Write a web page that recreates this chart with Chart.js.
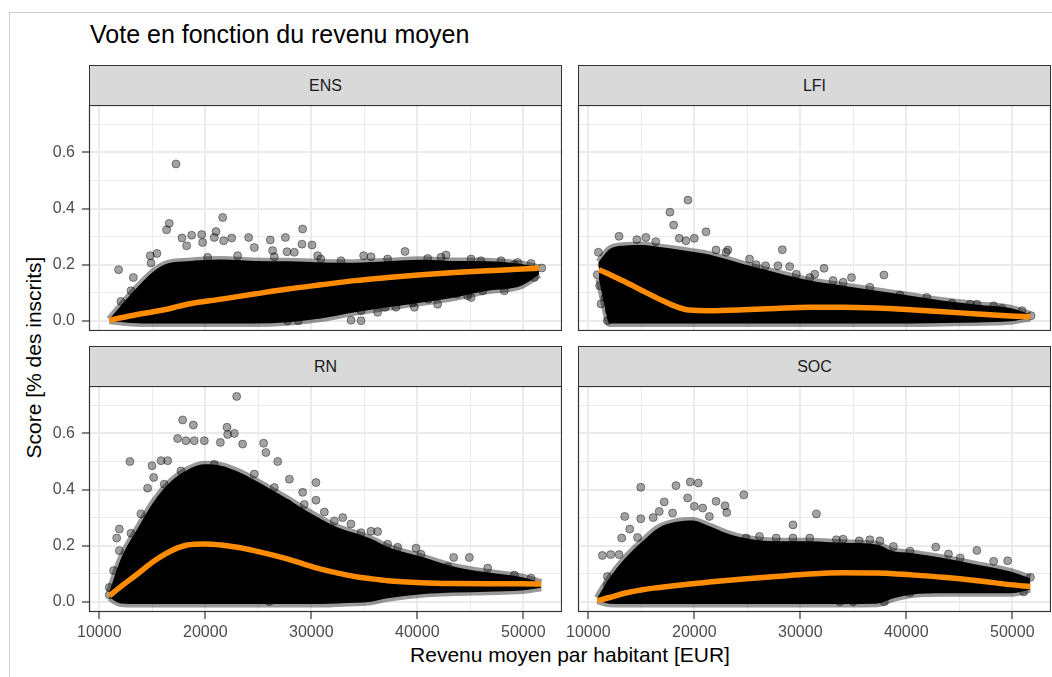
<!DOCTYPE html>
<html>
<head>
<meta charset="utf-8">
<script src="https://cdn.jsdelivr.net/npm/chart.js@4"></script>
<style>
  body { margin: 0; width: 1052px; height: 677px; overflow: hidden; background: #fff;
         font-family: "Liberation Sans", Arial, sans-serif; position: relative; }
  #frame { position: absolute; left: 9px; top: 12px; width: 1100px; height: 700px;
           border-left: 1px solid #d0d0d0; border-top: 1px solid #d0d0d0; }
  canvas { position: absolute; }
  .strip { position: absolute; box-sizing: border-box; background: #d9d9d9; border: 1px solid #333;
           color: #1a1a1a; font-size: 16px; text-align: center; line-height: 39px; }
  #title { position: absolute; left: 90px; top: 22px; font-size: 25px; line-height: 25px; color: #000; }
  #xlab { position: absolute; left: 270px; width: 600px; top: 644px; font-size: 21px; line-height: 21px;
          text-align: center; color: #000; }
  #ylab { position: absolute; left: -117px; width: 300px; top: 347px; font-size: 21px; line-height: 21px;
          text-align: center; color: #000; transform: rotate(-90deg); }
</style>
</head>
<body>
<div id="frame"></div>
<div id="title">Vote en fonction du revenu moyen</div>
<div id="xlab">Revenu moyen par habitant [EUR]</div>
<div id="ylab">Score [% des inscrits]</div>

<script>
// axis ticks
const xMajor = [10000, 20000, 30000, 40000, 50000];
const xGrid = [10000, 15000, 20000, 25000, 30000, 35000, 40000, 45000, 50000];
const yGrid = [0, 0.1, 0.2, 0.3, 0.4, 0.5, 0.6, 0.7];

// ENS: dense cloud (low/high edge), smooth fit, scattered points
const ensKnots = [10950, 13000, 15200, 16500, 18300, 21500, 24600, 27800, 30900, 34100, 37200, 40400, 43500, 46600, 49800, 51500];
const ensHigh = [0.005, 0.095, 0.178, 0.205, 0.212, 0.218, 0.213, 0.212, 0.208, 0.207, 0.212, 0.217, 0.213, 0.212, 0.202, 0.188];
const ensLow = [0.0, -0.008, -0.01, -0.01, -0.01, -0.01, -0.01, -0.005, 0.008, 0.03, 0.048, 0.065, 0.083, 0.107, 0.125, 0.165];
const ensFit = [0.002, 0.018, 0.033, 0.042, 0.059, 0.077, 0.095, 0.113, 0.128, 0.143, 0.154, 0.164, 0.172, 0.178, 0.184, 0.188];
const ensOut = [[17230,0.559],[21640,0.368],[16600,0.347],[16350,0.324],[11820,0.182],[13210,0.154],[14810,0.232],
  [15440,0.240],[14880,0.206],[17800,0.295],[18710,0.305],[18240,0.267],[19660,0.307],[21010,0.318],[22490,0.295],
  [24090,0.297],[26130,0.288],[27550,0.297],[29180,0.327],[29120,0.273],[30070,0.270],[27710,0.246],[28400,0.244],
  [30600,0.232],[34940,0.232],[38840,0.247],[42710,0.234],[40980,0.222],[47900,0.214],[50730,0.204],[51740,0.188],
  [49940,0.145],[48370,0.140],[51040,0.154],[46170,0.107],[44750,0.089],[43750,0.095],[41040,0.077],[39560,0.065],
  [37990,0.048],[36950,0.048],[34690,0.036],[34690,0.0],[33750,0.002],[28780,0.0],[27770,0.0],[12040,0.069],
  [12990,0.107],[12520,0.048],[20850,0.297],[21730,0.285],[19750,0.279],[24620,0.261],[26350,0.25],[30900,0.22],
  [32800,0.214],[37200,0.22],[46000,0.214],[49150,0.2],[20220,0.226],[23050,0.232],[26510,0.228],[35630,0.228],
  [42240,0.226],[45070,0.22],[49470,0.208],[41920,0.059],[45070,0.083],[48210,0.107],[39720,0.048],[36260,0.03]];

// LFI
const lfiKnots = [11000, 11500, 12000, 13500, 15100, 16700, 18300, 19500, 21400, 24600, 27700, 30900, 34000, 37200, 40400, 43500, 46700, 49800, 51700];
const lfiHigh = [0.21, 0.235, 0.255, 0.268, 0.27, 0.263, 0.255, 0.248, 0.236, 0.202, 0.172, 0.143, 0.125, 0.107, 0.089, 0.071, 0.057, 0.045, 0.022];
const lfiLow = [0.15, 0.06, -0.01, -0.01, -0.01, -0.01, -0.01, -0.01, -0.01, -0.01, -0.01, -0.01, -0.01, -0.01, -0.01, -0.008, -0.006, -0.002, 0.01];
const lfiFit = [0.182, 0.174, 0.165, 0.138, 0.107, 0.077, 0.05, 0.038, 0.036, 0.039, 0.044, 0.048, 0.048, 0.045, 0.039, 0.032, 0.024, 0.017, 0.014];
const lfiOut = [[19400,0.430],[17700,0.387],[18050,0.341],[21110,0.317],[18580,0.294],[20000,0.294],[19210,0.285],
  [12900,0.301],[14580,0.289],[15430,0.297],[16370,0.282],[10950,0.244],[10850,0.164],[11070,0.125],[11800,0.0],
  [11960,0.036],[11580,0.083],[28300,0.253],[26720,0.196],[27890,0.196],[29000,0.193],[32240,0.187],[31360,0.166],
  [34830,0.154],[37890,0.163],[34040,0.137],[39400,0.092],[44300,0.062],[46660,0.059],[49030,0.044],[51770,0.018],
  [50920,0.036],[22050,0.252],[23160,0.252],[25840,0.2],[29620,0.166],[33090,0.143],[11300,0.2],[11200,0.06],[11600,0.15],
  [23000,0.244],[25210,0.22],[30890,0.154],[36560,0.119],[41930,0.083],[46030,0.059],[48240,0.053]];

// RN
const rnKnots = [10950, 12000, 13600, 15200, 16800, 18300, 19900, 21500, 23000, 24600, 26200, 27800, 29300, 30900, 32500, 34100, 35600, 37200, 40400, 43500, 46600, 49800, 51700];
const rnHigh = [0.035, 0.15, 0.26, 0.36, 0.43, 0.47, 0.49, 0.485, 0.465, 0.435, 0.40, 0.365, 0.33, 0.295, 0.265, 0.245, 0.225, 0.195, 0.16, 0.125, 0.105, 0.088, 0.068];
const rnLow = [0.015, -0.006, -0.008, -0.008, -0.008, -0.008, -0.008, -0.008, -0.008, -0.008, -0.008, -0.008, -0.008, -0.008, -0.006, -0.004, 0.0, 0.012, 0.027, 0.033, 0.036, 0.04, 0.05];
const rnFit = [0.021, 0.053, 0.099, 0.146, 0.182, 0.202, 0.206, 0.202, 0.194, 0.182, 0.168, 0.152, 0.134, 0.116, 0.102, 0.09, 0.082, 0.075, 0.068, 0.065, 0.064, 0.064, 0.063];
const rnOut = [[22960,0.732],[17860,0.648],[18870,0.630],[22050,0.622],[22740,0.600],[22110,0.596],[23520,0.562],
  [25500,0.565],[25720,0.532],[26830,0.500],[12890,0.500],[17390,0.582],[18180,0.574],[18960,0.574],[19910,0.574],
  [21420,0.568],[14970,0.485],[15820,0.503],[16450,0.503],[14560,0.405],[15130,0.443],[13930,0.313],[12990,0.244],
  [11890,0.259],[11640,0.227],[11890,0.182],[11350,0.111],[10940,0.051],[10940,0.025],[27930,0.437],[30440,0.425],
  [29180,0.39],[30440,0.362],[31230,0.32],[32960,0.3],[33740,0.277],[35630,0.251],[36260,0.25],[38150,0.194],
  [39880,0.191],[43430,0.158],[44910,0.158],[42870,0.125],[50730,0.084],[26040,0.001],[27770,0.35],[26510,0.366],
  [16130,0.419],[17700,0.466],[20850,0.49],[24620,0.455],[26510,0.407],[29340,0.347],[32170,0.288],[34690,0.246],
  [37200,0.205],[40350,0.169],[46640,0.12],[49160,0.095]];

// SOC
const socKnots = [10850, 12000, 13500, 15100, 16700, 18300, 19800, 21400, 23000, 24600, 27700, 30900, 34000, 37200, 38800, 40400, 43500, 46700, 49800, 51700];
const socHigh = [0.014, 0.085, 0.156, 0.215, 0.265, 0.285, 0.29, 0.27, 0.245, 0.228, 0.216, 0.216, 0.21, 0.204, 0.18, 0.174, 0.156, 0.132, 0.108, 0.084];
const socLow = [0.004, -0.007, -0.008, -0.008, -0.008, -0.008, -0.008, -0.008, -0.008, -0.008, -0.008, -0.008, -0.008, -0.007, 0.012, 0.025, 0.03, 0.03, 0.03, 0.044];
const socFit = [0.004, 0.015, 0.031, 0.043, 0.051, 0.058, 0.064, 0.07, 0.076, 0.081, 0.09, 0.099, 0.103, 0.102, 0.1, 0.096, 0.087, 0.075, 0.061, 0.054];
const socOut = [[14950,0.408],[18270,0.414],[19620,0.427],[20380,0.423],[24670,0.381],[19370,0.37],[17160,0.356],
  [20000,0.34],[22050,0.358],[22900,0.342],[23060,0.318],[31520,0.313],[29310,0.274],[13440,0.304],[14950,0.296],
  [13910,0.259],[14640,0.229],[13150,0.227],[11330,0.165],[12110,0.168],[12900,0.168],[11800,0.09],[11800,0.06],
  [42780,0.195],[46660,0.183],[43980,0.17],[49560,0.146],[51710,0.087],[51080,0.035],[37920,0.0],[34990,0.0],
  [33730,0.0],[38460,0.032],[27730,0.227],[30890,0.227],[34040,0.223],[35560,0.217],[37510,0.217],[38780,0.197],
  [24890,0.227],[16120,0.3],[17950,0.316],[20790,0.334],[16690,0.322],[21420,0.304],[26150,0.233],[29310,0.227],
  [33410,0.221],[36560,0.221],[40350,0.18],[45080,0.156],[48240,0.144],[40350,0.032]];

const FONT = '"Liberation Sans", Arial, sans-serif';
const X_MIN = 9028, X_MAX = 53651, Y_MIN = -0.0366, Y_MAX = 0.7691;

const panels = [
  { name: "ENS", knots: ensKnots, high: ensHigh, low: ensLow, fit: ensFit, out: ensOut, left: 45, top: 105, w: 517, h: 226, yAxis: true, xAxis: false },
  { name: "LFI", knots: lfiKnots, high: lfiHigh, low: lfiLow, fit: lfiFit, out: lfiOut, left: 558, top: 105, w: 493, h: 226, yAxis: false, xAxis: false },
  { name: "RN", knots: rnKnots, high: rnHigh, low: rnLow, fit: rnFit, out: rnOut, left: 45, top: 386, w: 517, h: 266, yAxis: true, xAxis: true },
  { name: "SOC", knots: socKnots, high: socHigh, low: socLow, fit: socFit, out: socOut, left: 558, top: 386, w: 493, h: 266, yAxis: false, xAxis: true },
];

const panelBorder = {
  id: "panelBorder",
  afterDraw(chart) {
    const a = chart.chartArea, c = chart.ctx;
    c.save();
    c.strokeStyle = "#333333";
    c.lineWidth = 1.2;
    c.strokeRect(a.left + 0.5, a.top + 0.5, a.right - a.left - 1, a.bottom - a.top - 1);
    c.restore();
  }
};

const isMajorX = v => xMajor.includes(v);
const isMajorY = v => Math.round(v * 10) % 2 === 0;
const pts = (xs, ys) => xs.map((x, i) => ({ x: x, y: ys[i] }));

function makePanel(p) {
  const canvas = document.createElement("canvas");
  canvas.width = p.w;
  canvas.height = p.h;
  canvas.style.left = p.left + "px";
  canvas.style.top = p.top + "px";
  document.body.appendChild(canvas);

  const yw = p.yAxis ? 44 : 20;
  const strip = document.createElement("div");
  strip.className = "strip";
  strip.style.left = (p.left + yw) + "px";
  strip.style.top = (p.top - 40) + "px";
  strip.style.width = (p.w - yw) + "px";
  strip.style.height = "41px";
  strip.textContent = p.name;
  document.body.appendChild(strip);

  new Chart(canvas, {
    type: "line",
    data: {
      datasets: [
        { data: pts(p.knots, p.fit), borderColor: "#ff8c00", borderWidth: 5.5, pointRadius: 0,
          cubicInterpolationMode: "monotone", fill: false, order: 0, clip: 0 },
        { data: p.out.map(d => ({ x: d[0], y: d[1] })), showLine: false, pointRadius: 4,
          pointBackgroundColor: "rgba(0,0,0,0.36)", pointBorderColor: "rgba(0,0,0,0.42)", pointBorderWidth: 1,
          order: 1, clip: 0 },
        { data: pts(p.knots, p.low), borderColor: "rgba(0,0,0,0.4)", borderWidth: 7, pointRadius: 0,
          cubicInterpolationMode: "monotone", fill: false, order: 2, clip: 0 },
        { data: pts(p.knots, p.high), borderColor: "rgba(0,0,0,0.4)", borderWidth: 7, pointRadius: 0,
          cubicInterpolationMode: "monotone", fill: "-1", backgroundColor: "#000", order: 3, clip: 0 },
      ]
    },
    options: {
      responsive: false,
      animation: false,
      events: [],
      layout: { padding: 0, autoPadding: false },
      plugins: { legend: { display: false }, tooltip: { enabled: false } },
      scales: {
        x: {
          type: "linear", min: X_MIN, max: X_MAX,
          afterBuildTicks: s => { s.ticks = xGrid.map(v => ({ value: v })); },
          afterFit: s => { s.height = p.xAxis ? 40 : 0; s.paddingLeft = 0; s.paddingRight = 0; },
          border: { display: false },
          grid: {
            color: "#ebebeb",
            lineWidth: c => isMajorX(c.tick.value) ? 2 : 1,
            drawTicks: p.xAxis, tickLength: 7, tickWidth: 1.2,
            tickColor: c => isMajorX(c.tick.value) ? "#333333" : "rgba(0,0,0,0)"
          },
          ticks: {
            display: p.xAxis, autoSkip: false, maxRotation: 0, padding: 4, color: "#4d4d4d",
            font: { family: FONT, size: 16 },
            callback: v => isMajorX(v) ? String(v) : ""
          }
        },
        y: {
          type: "linear", min: Y_MIN, max: Y_MAX,
          afterBuildTicks: s => { s.ticks = yGrid.map(v => ({ value: v })); },
          afterFit: s => { s.width = yw; s.paddingTop = 0; s.paddingBottom = 0; },
          border: { display: false },
          grid: {
            color: "#ebebeb",
            lineWidth: c => isMajorY(c.tick.value) ? 2 : 1,
            drawTicks: p.yAxis, tickLength: 7, tickWidth: 1.2,
            tickColor: c => isMajorY(c.tick.value) ? "#333333" : "rgba(0,0,0,0)"
          },
          ticks: {
            display: p.yAxis, autoSkip: false, padding: 7, color: "#4d4d4d",
            font: { family: FONT, size: 16 },
            callback: v => isMajorY(v) ? v.toFixed(1) : ""
          }
        }
      }
    },
    plugins: [panelBorder]
  });
}

panels.forEach(makePanel);
</script>
</body>
</html>
